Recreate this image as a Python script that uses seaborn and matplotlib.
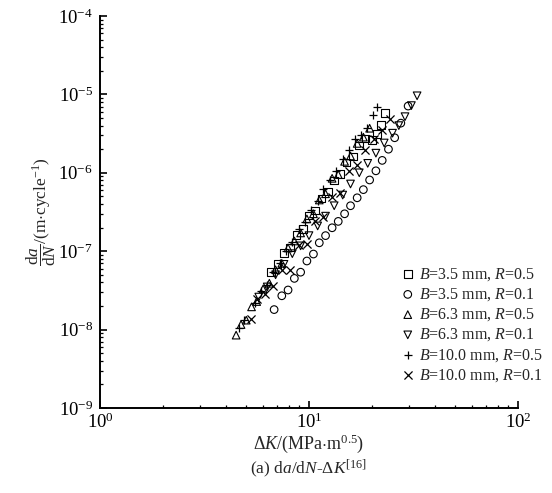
import matplotlib
matplotlib.use("Agg")
import matplotlib.pyplot as plt
import matplotlib.ticker as mticker
import seaborn as sns
import pandas as pd

# Fatigue crack growth data: stress intensity factor range (MPa*m^0.5) vs da/dN (m/cycle)
dk_b35_r05 = [6.58, 7.08, 7.59, 8.13, 8.71, 9.33, 10.0, 10.7, 11.5, 12.3, 13.2, 14.1,
              15.1, 16.2, 17.4, 18.6, 20.0, 21.1, 22.1, 23.1]
da_b35_r05 = [5.4e-8, 6.9e-8, 9.5e-8, 1.11e-7, 1.61e-7, 1.93e-7, 2.84e-7, 3.3e-7, 4.7e-7,
              5.8e-7, 8.0e-7, 9.6e-7, 1.35e-6, 1.62e-6, 2.23e-6, 2.74e-6, 2.6e-6, 3.1e-6,
              4.1e-6, 5.8e-6]

dk_b35_r01 = [6.81, 7.41, 7.94, 8.51, 9.12, 9.77, 10.5, 11.2, 12.0, 12.9, 13.8, 14.8,
              15.8, 17.0, 18.2, 19.5, 20.9, 22.4, 24.0, 25.7, 27.5, 29.8]
da_b35_r01 = [1.8e-8, 2.7e-8, 3.2e-8, 4.5e-8, 5.4e-8, 7.5e-8, 9.2e-8, 1.28e-7, 1.58e-7,
              1.99e-7, 2.4e-7, 3.0e-7, 3.8e-7, 4.8e-7, 6.1e-7, 8.1e-7, 1.06e-6, 1.44e-6,
              2.0e-6, 2.8e-6, 4.3e-6, 7.1e-6]

dk_b63_r05 = [4.48, 4.73, 5.01, 5.31, 5.62, 6.03, 6.46, 6.92, 7.41, 7.94, 8.51, 9.12,
              9.77, 10.5, 11.2, 12.0, 12.9, 13.8, 14.8, 15.8, 17.0, 18.2, 19.5]
da_b63_r05 = [8.5e-9, 1.16e-8, 1.32e-8, 1.95e-8, 2.28e-8, 3.3e-8, 3.9e-8, 5.8e-8, 7.0e-8,
              1.10e-7, 1.35e-7, 1.71e-7, 2.58e-7, 3.0e-7, 4.5e-7, 5.4e-7, 8.5e-7, 9.5e-7,
              1.40e-6, 1.64e-6, 2.37e-6, 2.85e-6, 3.7e-6]

dk_b63_r01 = [5.75, 6.31, 6.92, 7.59, 8.32, 9.12, 10.0, 11.0, 12.0, 13.2, 14.5, 15.8,
              17.4, 19.1, 20.9, 22.9, 25.1, 26.9, 28.8, 30.9, 32.9]
da_b63_r01 = [2.6e-8, 3.5e-8, 5.0e-8, 6.8e-8, 9.3e-8, 1.17e-7, 1.58e-7, 2.1e-7, 2.8e-7,
              3.8e-7, 5.2e-7, 7.2e-7, 1.0e-6, 1.32e-6, 1.78e-6, 2.4e-6, 3.2e-6, 4.0e-6,
              5.2e-6, 7.2e-6, 9.6e-6]

dk_b10_r05 = [4.62, 4.90, 5.50, 5.89, 6.31, 6.76, 7.24, 7.76, 8.32, 8.91, 9.55, 10.2,
              11.0, 11.7, 12.6, 13.5, 14.5, 15.5, 16.6, 17.8, 18.97, 20.2, 21.1]
da_b10_r05 = [1.05e-8, 1.31e-8, 2.2e-8, 3.1e-8, 3.7e-8, 5.5e-8, 7.1e-8, 1.02e-7, 1.31e-7,
              1.90e-7, 2.39e-7, 3.4e-7, 4.4e-7, 6.3e-7, 8.0e-7, 1.06e-6, 1.49e-6, 1.96e-6,
              2.7e-6, 3.0e-6, 3.7e-6, 5.5e-6, 6.9e-6]

dk_b10_r01 = [5.25, 5.62, 6.17, 6.76, 7.41, 8.13, 8.91, 9.77, 10.7, 11.7, 12.9, 14.1,
              15.5, 17.0, 18.6, 20.4, 22.4, 24.5]
da_b10_r01 = [1.37e-8, 2.46e-8, 2.87e-8, 3.6e-8, 5.8e-8, 5.7e-8, 1.19e-7, 1.24e-7, 2.45e-7,
              2.73e-7, 4.9e-7, 5.6e-7, 1.04e-6, 1.24e-6, 1.96e-6, 2.69e-6, 3.5e-6, 4.9e-6]

series_labels = [r"$B$=3.5 mm, $R$=0.5", r"$B$=3.5 mm, $R$=0.1",
                 r"$B$=6.3 mm, $R$=0.5", r"$B$=6.3 mm, $R$=0.1",
                 r"$B$=10.0 mm, $R$=0.5", r"$B$=10.0 mm, $R$=0.1"]
series_dk = [dk_b35_r05, dk_b35_r01, dk_b63_r05, dk_b63_r01, dk_b10_r05, dk_b10_r01]
series_da = [da_b35_r05, da_b35_r01, da_b63_r05, da_b63_r01, da_b10_r05, da_b10_r01]
series_markers = ["s", "o", "^", "v", "+", "x"]

x_major = [1, 10, 100]
y_major = [1e-9, 1e-8, 1e-7, 1e-6, 1e-5, 1e-4]

sns.set_theme(style="ticks")
plt.rcParams["font.family"] = ["Liberation Serif", "DejaVu Serif"]
plt.rcParams["mathtext.fontset"] = "custom"
plt.rcParams["mathtext.rm"] = "Liberation Serif"
plt.rcParams["mathtext.it"] = "Liberation Serif:italic"
plt.rcParams["mathtext.bf"] = "Liberation Serif:bold"
plt.rcParams["axes.unicode_minus"] = False

fig = plt.figure(figsize=(5.52, 4.93), dpi=100)
ax = fig.add_axes([100 / 552, 1 - 408 / 493, 418 / 552, 392 / 493])

frames = []
for lab, dk, da in zip(series_labels, series_dk, series_da):
    frames.append(pd.DataFrame({"dK": dk, "dadN": da, "series": lab}))
df = pd.concat(frames, ignore_index=True)

handles = []
for lab, mk in zip(series_labels, series_markers):
    sub = df[df["series"] == lab]
    if mk in ("+", "x"):
        sns.scatterplot(data=sub, x="dK", y="dadN", marker=mk, color="black",
                        s=34, linewidth=0.9, ax=ax, legend=False)
    else:
        sns.scatterplot(data=sub, x="dK", y="dadN", marker=mk, facecolor="none",
                        edgecolor="black", s=30, linewidth=0.8, ax=ax, legend=False)
    handles.append(ax.collections[-1])

ax.set_xscale("log")
ax.set_yscale("log")
ax.set_xlim(1, 100)
ax.set_ylim(1e-9, 1e-4)

ax.xaxis.set_major_locator(mticker.FixedLocator(x_major))
ax.yaxis.set_major_locator(mticker.FixedLocator(y_major))
ax.xaxis.set_major_formatter(mticker.LogFormatterSciNotation())
ax.yaxis.set_major_formatter(mticker.LogFormatterSciNotation())
ax.xaxis.set_minor_locator(mticker.LogLocator(base=10, subs=range(2, 10), numticks=10))
ax.yaxis.set_minor_locator(mticker.LogLocator(base=10, subs=range(2, 10), numticks=10))
ax.xaxis.set_minor_formatter(mticker.NullFormatter())
ax.yaxis.set_minor_formatter(mticker.NullFormatter())

sns.despine(ax=ax)
for sp in ("left", "bottom"):
    ax.spines[sp].set_linewidth(1.4)
    ax.spines[sp].set_color("black")
ax.tick_params(which="major", direction="in", length=5, width=1.2, labelsize=13.5,
               colors="black")
ax.tick_params(axis="x", which="major", pad=3)
ax.tick_params(axis="y", which="major", pad=5)
ax.tick_params(which="minor", direction="in", length=2.5, width=0.9, colors="black")

ax.set_xlabel(r"$\Delta K$/(MPa$\cdot$m$^{0.5}$)", fontsize=13, labelpad=1)
ax.set_ylabel(r"$\dfrac{\mathrm{d}a}{\mathrm{d}N}$/(m$\cdot$cycle$^{-1}$)", fontsize=12.5,
              labelpad=0)

fig.text(309 / 552, 1 - 469 / 493, r"(a) d$a$/d$N$-$\Delta K^{[16]}$", ha="center",
         va="center", fontsize=12.5)

leg = ax.legend(handles, series_labels, loc="upper left",
                bbox_to_anchor=(391 / 552, 1 - 258 / 493), bbox_transform=fig.transFigure,
                frameon=False, fontsize=11.5, handletextpad=0.15, labelspacing=0.22,
                borderpad=0, handlelength=1.1, markerscale=1.0)

fig.savefig("out.png", dpi=100)
